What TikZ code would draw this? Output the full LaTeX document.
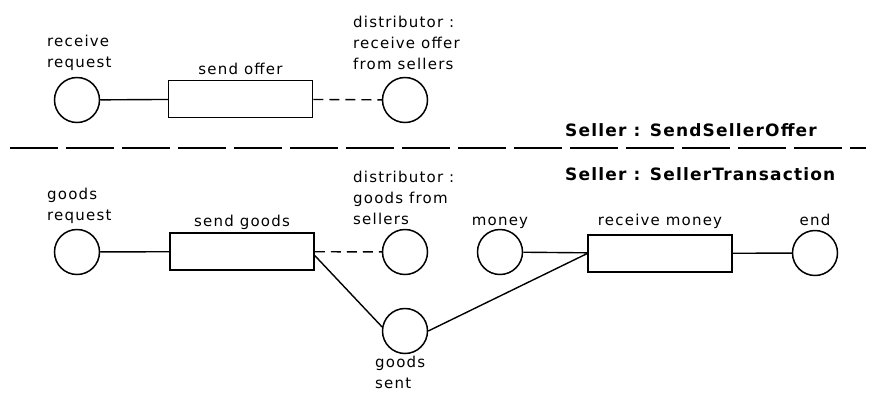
\documentclass[tikz,border=0pt]{standalone}
\usepackage{fontspec}
\usetikzlibrary{calc}
\newfontfamily\lblfont[LetterSpace=8]{DejaVu Sans}
\newfontfamily\ttlfont[LetterSpace=7]{DejaVu Sans}
\begin{document}
\begin{tikzpicture}[x=1pt,y=-1pt,
  place/.style={circle,draw,line width=1.5pt,minimum size=45pt,inner sep=0pt},
  task/.style={rectangle,draw,line width=1.5pt,minimum width=144pt,minimum height=37pt,inner sep=0pt},
  lbl/.style={font=\lblfont\fontsize{15}{21}\selectfont,inner sep=0pt,align=left,text=black},
  ttl/.style={font=\ttlfont\bfseries\fontsize{17}{20}\selectfont,inner sep=0pt},
  link/.style={line width=1.4pt},
  optlink/.style={line width=1.4pt,dash pattern=on 10pt off 6pt},
  divider/.style={line width=1.8pt,dash pattern=on 48pt off 8pt}]
\useasboundingbox (0,0) rectangle (869,392);

% ---- Seller : SendSellerOffer ----
% (multi-line labels are placed by the baseline of their last line)
\node[place] (rreq) at (77,100) {};
\node[task] (soffer) at (240.5,99) {};
\node[place] (dist1) at (405,100) {};
\node[lbl,anchor=base west] (rreqL) at (47,67) {receive\\request};
\node[lbl,anchor=base] (sofferL) at (240.5,74) {send offer};
\node[lbl,anchor=base west] (dist1L) at (353,69) {distributor :\\receive offer\\from sellers};

\draw[link] (rreq) -- (soffer);
\draw[optlink] (soffer) -- (dist1);

% ---- divider between the two processes ----
\coordinate (dl) at (10,148);
\coordinate (dr) at (866,148);
\draw[divider] (dl) -- (dr);
\node[ttl,anchor=base west] (t1) at (565,136) {Seller : SendSellerOffer};
\node[ttl,anchor=base west] (t2) at (565,180) {Seller : SellerTransaction};

% ---- Seller : SellerTransaction ----
\node[place] (greq) at (77,252) {};
\node[task] (sgoods) at (242,251.5) {};
\node[place] (dist2) at (405,252) {};
\node[place] (gsent) at (405,331) {};
\node[place] (money) at (500,252) {};
\node[task] (rmoney) at (660,253.5) {};
\node[place] (done) at (815,253) {};

\node[lbl,anchor=base west] (greqL) at (47,220) {goods\\request};
\node[lbl,anchor=base] (sgoodsL) at (242,226) {send goods};
\node[lbl,anchor=base west] (dist2L) at (353,224) {distributor :\\goods from\\sellers};
\node[lbl,anchor=base west] (gsentL) at (375,388) {goods\\sent};
\node[lbl,anchor=base] (moneyL) at (500,225) {money};
\node[lbl,anchor=base] (rmoneyL) at (660,225) {receive money};
\node[lbl,anchor=base] (doneL) at (815,225) {end};

\draw[link] (greq) -- (sgoods);
\draw[optlink] (sgoods) -- (dist2);
\draw[link] ($(sgoods.east)+(0,4)$) -- (gsent.170);
\draw[link] (gsent.east) -- (rmoney.west);
\draw[link] (money) -- (rmoney);
\draw[link] (rmoney) -- (done);
\end{tikzpicture}
\end{document}
